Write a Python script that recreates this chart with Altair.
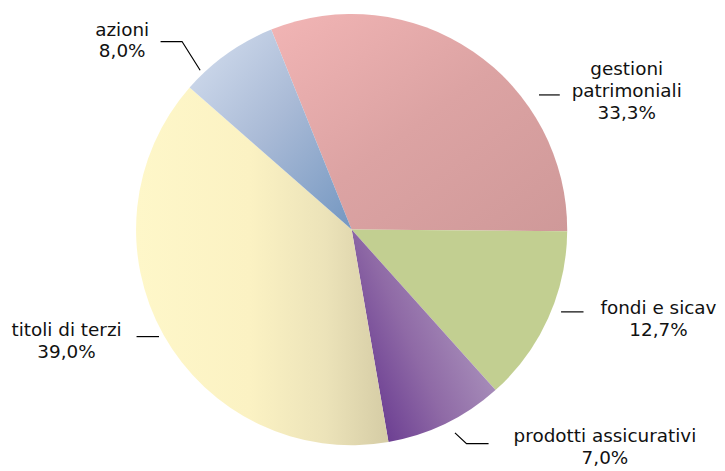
import math
import altair as alt
import pandas as pd

# ---- data (shares as drawn, labels as printed) ----
categories = ["gestioni patrimoniali", "fondi e sicav", "prodotti assicurativi", "titoli di terzi", "azioni"]
shares = [31.2, 13.25, 8.9, 39.2, 7.45]
label_lines = [["gestioni", "patrimoniali", "33,3%"], ["fondi e sicav", "12,7%"],
               ["prodotti assicurativi", "7,0%"], ["titoli di terzi", "39,0%"], ["azioni", "8,0%"]]

# ---- layout (chart pixel coordinates) ----
W, H = 717, 463
CX, CY, R = 347.5, 221.5, 218
START = math.radians(-21.9)
label_pos = {  # x centre, first baseline, line step
    "gestioni patrimoniali": (625.7, 65, 22.5),
    "fondi e sicav": (657.8, 307, 22),
    "prodotti assicurativi": (603.7, 436, 22.5),
    "titoli di terzi": (59.2, 329.3, 22),
    "azioni": (115.5, 25.3, 21.7),
}
leaders = {
    "gestioni patrimoniali": [(537, 85.3), (558, 85.3)],
    "fondi e sicav": [(559.3, 304.7), (582, 304.7)],
    "prodotti assicurativi": [(452, 427), (463.7, 438), (486, 438)],
    "titoli di terzi": [(130, 329.7), (152.7, 329.7)],
    "azioni": [(154.3, 31.3), (176, 31.3), (194.3, 60.3)],
}
gradients = {
    "gestioni patrimoniali": dict(stops=[("#f2b5b5", 0), ("#dca3a3", 0.5), ("#cf9999", 1)], x1=0, y1=0, x2=1, y2=1),
    "fondi e sicav": dict(stops=[("#c2cf91", 0), ("#c2cf91", 1)], x1=0, y1=0, x2=1, y2=0),
    "prodotti assicurativi": dict(stops=[("#5a2888", 0), ("#8f6aa6", 0.5), ("#b39fc3", 1)], x1=0, y1=1, x2=1, y2=0.35),
    "titoli di terzi": dict(stops=[("#fef7c9", 0), ("#fbf2c3", 0.45), ("#ece3b9", 0.75), ("#d5cca5", 1)], x1=0, y1=0, x2=1, y2=0),
    "azioni": dict(stops=[("#d5dfef", 0), ("#a9bad6", 0.5), ("#7497c1", 1)], x1=0, y1=0, x2=1, y2=1),
}

# ---- tables ----
rows, acc = [], 0.0
for c, s in zip(categories, shares):
    rows.append({"cat": c, "start": acc, "end": acc + s})
    acc += s
pie = pd.DataFrame(rows)

text_rows = []
for c, lines in zip(categories, label_lines):
    x, y0, step = label_pos[c]
    for i, t in enumerate(lines):
        text_rows.append({"cat": c, "x": x, "y": y0 + i * step, "t": t})
texts = pd.DataFrame(text_rows)

line_rows = []
for c, pts in leaders.items():
    for i, (x, y) in enumerate(pts):
        line_rows.append({"cat": c, "i": i, "x": x, "y": y})
lines_df = pd.DataFrame(line_rows)

theta_scale = alt.Scale(domain=[0, 100], range=[START, START + 2 * math.pi])
xs = alt.Scale(domain=[0, W], range=[0, W], nice=False, zero=False)
ys = alt.Scale(domain=[0, H], range=[0, H], nice=False, zero=False)

layers = []
for c in categories:
    g = gradients[c]
    grad = alt.LinearGradient(
        gradient="linear",
        stops=[alt.GradientStop(color=col, offset=off) for col, off in g["stops"]],
        x1=g["x1"], y1=g["y1"], x2=g["x2"], y2=g["y2"],
    )
    layers.append(
        alt.Chart(pie).transform_filter(alt.datum.cat == c)
        .mark_arc(outerRadius=R, fill=grad, stroke=None)
        .encode(
            theta=alt.Theta("start:Q", scale=theta_scale),
            theta2="end:Q",
            x=alt.value(CX),
            y=alt.value(CY),
        )
    )

leader_layer = alt.Chart(lines_df).mark_line(color="#000000", strokeWidth=1.2).encode(
    x=alt.X("x:Q", scale=xs, axis=None),
    y=alt.Y("y:Q", scale=ys, axis=None),
    detail="cat:N",
    order="i:Q",
)

text_layer = alt.Chart(texts).mark_text(
    font="DejaVu Sans", fontSize=18.6, color="#111111", align="center", baseline="alphabetic"
).encode(
    x=alt.X("x:Q", scale=xs, axis=None),
    y=alt.Y("y:Q", scale=ys, axis=None),
    text="t:N",
)

chart = alt.layer(*layers, leader_layer, text_layer).properties(
    width=W, height=H, autosize=alt.AutoSizeParams(type="none"), padding=0
).configure_view(stroke=None)

chart.save("out.html", embed_options={"renderer": "svg", "actions": False})
